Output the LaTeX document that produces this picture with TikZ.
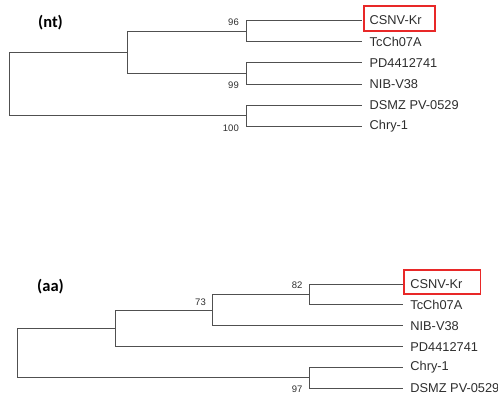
\documentclass[tikz,border=0pt]{standalone}
\usepackage{fontspec}
\setmainfont{Liberation Sans}
\newfontfamily\calfont{Carlito}
\definecolor{linegray}{RGB}{80,80,80}
\definecolor{txtgray}{RGB}{45,45,45}
\definecolor{boxred}{RGB}{232,40,40}
\begin{document}
\begin{tikzpicture}[x=1pt,y=-1pt,
  branch/.style={draw=linegray, line width=1pt},
  leaf/.style={anchor=west, inner xsep=7.5pt, inner ysep=0pt, font=\fontsize{12.8}{14}\selectfont, text=txtgray},
  boot/.style={anchor=east, inner sep=0pt, font=\fontsize{9.5}{11}\selectfont, text=txtgray},
  panel/.style={inner sep=0pt, font=\calfont\bfseries\fontsize{16.5}{18}\selectfont, text=black},
  redbox/.style={draw=boxred, line width=1.3pt, inner sep=0pt}]
\useasboundingbox (0,0) rectangle (498,393);
% ---------- (nt) ----------
\node[panel] (nt) at (50.5,22.3) {(nt)};
\coordinate (r1) at (9.7,84.1);
\coordinate (a1) at (127.7,52.3);
\coordinate (b1) at (246,31.1);
\coordinate (c1) at (246,73.5);
\coordinate (d1) at (246,115.9);
\node[leaf] (n1) at (362,20.5) {CSNV-Kr};
\node[leaf] (n2) at (362,41.7) {TcCh07A};
\node[leaf] (n3) at (362,62.9) {PD4412741};
\node[leaf] (n4) at (362,84.1) {NIB-V38};
\node[leaf] (n5) at (362,105.3) {DSMZ PV-0529};
\node[leaf] (n6) at (362,126.5) {Chry-1};
\draw[branch] (r1) |- (a1);
\draw[branch] (r1) |- (d1);
\draw[branch] (a1) |- (b1);
\draw[branch] (a1) |- (c1);
\draw[branch] (b1) |- (n1.west);
\draw[branch] (b1) |- (n2.west);
\draw[branch] (c1) |- (n3.west);
\draw[branch] (c1) |- (n4.west);
\draw[branch] (d1) |- (n5.west);
\draw[branch] (d1) |- (n6.west);
\node[boot] (s96) at (239,22) {96};
\node[boot] (s99) at (239,85) {99};
\node[boot] (s100) at (239,128) {100};
\node[redbox, minimum width=71pt, minimum height=25pt] (box1) at (399.5,18.5) {};
% ---------- (aa) ----------
\node[panel] (aa) at (50.5,286.7) {(aa)};
\coordinate (r2) at (17.7,353.05);
\coordinate (a2) at (115,328.3);
\coordinate (b2) at (212.3,310.05);
\coordinate (c2) at (309,294.4);
\coordinate (d2) at (309,377.8);
\node[leaf] (m1) at (402.7,284) {CSNV-Kr};
\node[leaf] (m2) at (402.7,304.85) {TcCh07A};
\node[leaf] (m3) at (402.7,325.7) {NIB-V38};
\node[leaf] (m4) at (402.7,346.55) {PD4412741};
\node[leaf] (m5) at (402.7,367.4) {Chry-1};
\node[leaf] (m6) at (402.7,388.25) {DSMZ PV-0529};
\draw[branch] (r2) |- (a2);
\draw[branch] (r2) |- (d2);
\draw[branch] (a2) |- (b2);
\draw[branch] (a2) |- (m4.west);
\draw[branch] (b2) |- (c2);
\draw[branch] (b2) |- (m3.west);
\draw[branch] (c2) |- (m1.west);
\draw[branch] (c2) |- (m2.west);
\draw[branch] (d2) |- (m5.west);
\draw[branch] (d2) |- (m6.west);
\node[boot] (s82) at (302.7,285.7) {82};
\node[boot] (s73) at (206,302.3) {73};
\node[boot] (s97) at (302.7,389) {97};
\node[redbox, minimum width=76.7pt, minimum height=24pt] (box2) at (442.35,282) {};
\end{tikzpicture}
\end{document}
